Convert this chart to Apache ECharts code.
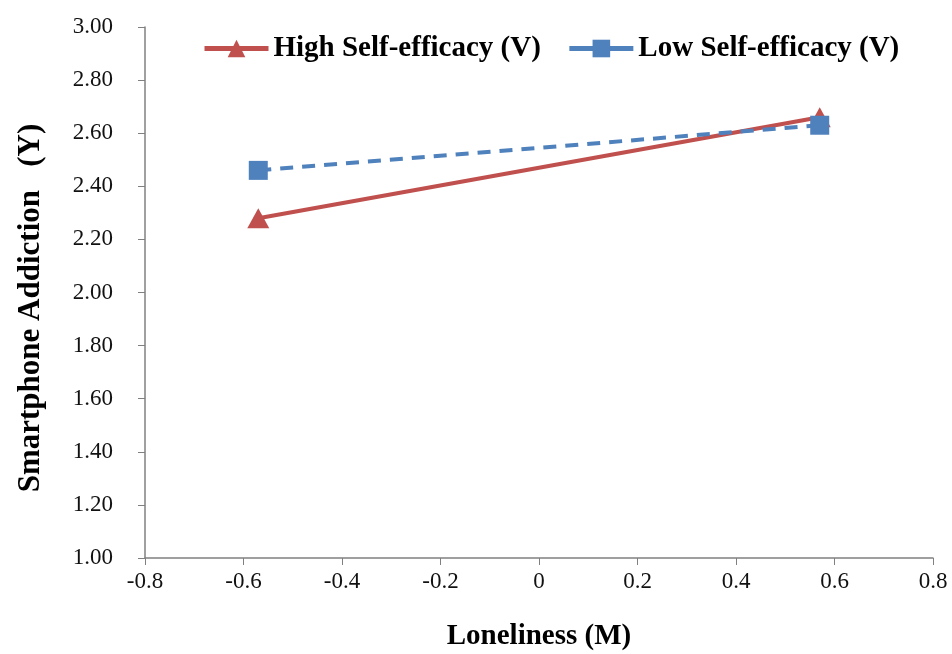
<!DOCTYPE html>
<html>
<head>
<meta charset="utf-8">
<script src="https://cdn.jsdelivr.net/npm/echarts@6/dist/echarts.min.js"></script>
<style>
  html, body { margin: 0; padding: 0; background: #fff; }
  #chart { width: 952px; height: 654px; }
</style>
</head>
<body>
<div id="chart"></div>
<script>
// Loneliness (M) levels: -1 SD / +1 SD
var lonelinessX = [-0.57, 0.57];
var highSelfEfficacy = [2.28, 2.66];
var lowSelfEfficacy = [2.46, 2.63];
var seriesNames = ['High Self-efficacy (V)', 'Low Self-efficacy (V)'];

function pairs(xs, ys) {
    return xs.map(function (x, i) { return [x, ys[i]]; });
}

var serif = '"Liberation Serif", "DejaVu Serif", serif';

var option = {
    backgroundColor: '#ffffff',
    animation: false,
    grid: { left: 145, right: 19, top: 27, bottom: 96, outerBoundsMode: 'none' },
    legend: {
        top: 29,
        left: 197,
        itemGap: 26,
        itemWidth: 64,
        itemHeight: 22,
        lineStyle: { width: 5, type: 'solid' },
        textStyle: { fontFamily: serif, fontWeight: 'bold', fontSize: 29, color: '#000' },
        data: seriesNames
    },
    xAxis: {
        type: 'value',
        min: -0.8, max: 0.8, interval: 0.2,
        name: 'Loneliness (M)',
        nameLocation: 'middle',
        nameGap: 64,
        nameTextStyle: { fontFamily: serif, fontWeight: 'bold', fontSize: 29, color: '#000' },
        axisLine: { onZero: false, lineStyle: { color: '#808080', width: 1.5 } },
        axisTick: { show: true, length: 7, lineStyle: { color: '#808080' } },
        axisLabel: {
            fontFamily: serif, fontSize: 23, color: '#111', margin: 12,
            formatter: function (v) { return Math.abs(v) < 1e-9 ? '0' : (+v.toFixed(1)).toString(); }
        },
        splitLine: { show: false }
    },
    yAxis: {
        type: 'value',
        min: 1, max: 3, interval: 0.2,
        name: 'Smartphone Addiction   (Y)    ',
        nameLocation: 'middle',
        nameGap: 99,
        nameTextStyle: { fontFamily: serif, fontWeight: 'bold', fontSize: 31, color: '#000' },
        axisLine: { show: true, onZero: false, lineStyle: { color: '#808080', width: 1.5 } },
        axisTick: { show: true, length: 7, lineStyle: { color: '#808080' } },
        axisLabel: {
            fontFamily: serif, fontSize: 23, color: '#111', margin: 32,
            formatter: function (v) { return v.toFixed(2); }
        },
        splitLine: { show: false }
    },
    series: [
        {
            name: seriesNames[0],
            type: 'line',
            data: pairs(lonelinessX, highSelfEfficacy),
            symbol: 'triangle',
            symbolSize: [22, 20],
            lineStyle: { color: '#C0504D', width: 4 },
            itemStyle: { color: '#C0504D' },
            z: 2
        },
        {
            name: seriesNames[1],
            type: 'line',
            data: pairs(lonelinessX, lowSelfEfficacy),
            symbol: 'rect',
            symbolSize: 19,
            lineStyle: { color: '#4F81BD', width: 4, type: [13, 9] },
            itemStyle: { color: '#4F81BD' },
            z: 3
        }
    ]
};

var myChart = echarts.init(document.getElementById('chart'));
myChart.setOption(option);
</script>
</body>
</html>
